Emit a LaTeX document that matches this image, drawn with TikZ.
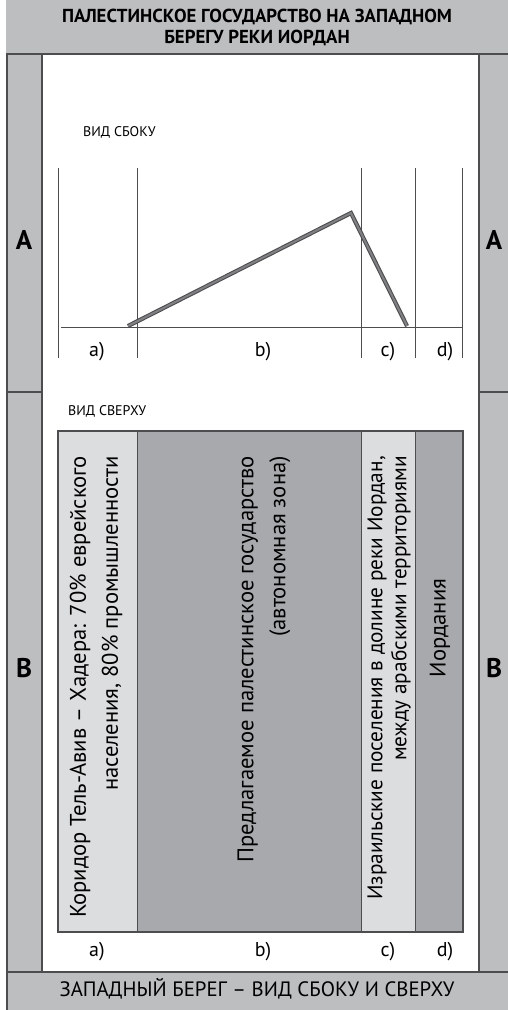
\documentclass[tikz,border=0pt]{standalone}
\usepackage{fontspec}
\setmainfont{PT Sans}
\definecolor{framegray}{HTML}{BCBEC0}
\definecolor{linegray}{HTML}{4D4D4F}
\definecolor{lightbox}{HTML}{DCDDDE}
\definecolor{darkbox}{HTML}{A7A9AC}
\definecolor{profilefill}{HTML}{808184}
\tikzset{
  frameline/.style={linegray, line width=1.6pt},
  thinline/.style={linegray, line width=0.8pt},
  bigletter/.style={font=\fontsize{27}{30}\selectfont\bfseries, inner sep=0pt},
  caption/.style={font=\fontsize{14}{16}\selectfont, anchor=west, inner sep=0pt},
  zonelabel/.style={font=\fontsize{20}{22}\selectfont, inner sep=0pt},
  boxtext/.style={font=\fontsize{22.6}{32}\selectfont, rotate=90, align=right, anchor=east, inner sep=0pt},
}
\begin{document}
\begin{tikzpicture}[x=1pt,y=-1pt]
\useasboundingbox (0,0) rectangle (508,1010);
% frame
\fill[framegray] (6,0) rectangle (508,1010);
\fill[white] (42,54) rectangle (479,972);
\draw[frameline] (7,54) -- (7,1010);
\draw[frameline] (6,54) -- (508,54);
\draw[frameline] (6,972) -- (508,972);
\draw[frameline] (42,54) -- (42,972);
\draw[frameline] (479,54) -- (479,972);
\draw[frameline] (7,392) -- (42,392);
\draw[frameline] (479,392) -- (508,392);
% title
\node[font=\fontsize{18.8}{21}\selectfont\bfseries, align=center, inner sep=0pt] (title) at (257,27) {ПАЛЕСТИНСКОЕ ГОСУДАРСТВО НА ЗАПАДНОМ\\БЕРЕГУ РЕКИ ИОРДАН};
\node[font=\fontsize{20.8}{22}\selectfont, inner sep=0pt] (footer) at (257,989) {ЗАПАДНЫЙ БЕРЕГ – ВИД СБОКУ И СВЕРХУ};
% side letters
\node[bigletter] (AL) at (24,240) {A};
\node[bigletter] (AR) at (494,240) {A};
\node[bigletter] (BL) at (24,668) {B};
\node[bigletter] (BR) at (494,668) {B};
% side view
\node[caption] (sidecap) at (83,132) {ВИД СБОКУ};
\foreach \x in {58,137,361,415,462} \draw[thinline] (\x,168) -- (\x,358);
\draw[thinline] (61,327) -- (462,327);
\coordinate (p1) at (128,326);
\coordinate (p2) at (351,213);
\coordinate (p3) at (407,326);
\draw[linegray, line width=4.2pt, line join=miter] (p1) -- (p2) -- (p3);
\draw[profilefill, line width=2pt, line join=miter] (p1) -- (p2) -- (p3);
\node[zonelabel] (sa) at (97,352) {a)};
\node[zonelabel] (sb) at (263,352) {b)};
\node[zonelabel] (sc) at (388,352) {c)};
\node[zonelabel] (sd) at (445,352) {d)};
% top view
\node[caption] (topcap) at (68,411) {ВИД СВЕРХУ};
\fill[lightbox] (58,431) rectangle (137,932);
\fill[darkbox] (137,431) rectangle (361,932);
\fill[lightbox] (361,431) rectangle (415,932);
\fill[darkbox] (415,431) rectangle (463,932);
\draw[thinline] (137,431) -- (137,932);
\draw[thinline] (361,431) -- (361,932);
\draw[thinline] (415,431) -- (415,932);
\draw[linegray, line width=1.2pt] (58,431) rectangle (463,932);
\node[boxtext] (ta) at (96,456) {Коридор Тель-Авив – Хадера: 70\% еврейского\\населения, 80\% промышленности};
\node[boxtext] (tb) at (264,456) {Предлагаемое палестинское государство\\(автономная зона)};
\node[boxtext, font=\fontsize{21.3}{24}\selectfont] (tc) at (389,456) {Израильские поселения в долине реки Иордан,\\между арабскими территориями};
\node[boxtext, anchor=center] (td) at (440,628) {Иордания};
\node[zonelabel] (ba) at (97,952) {a)};
\node[zonelabel] (bb) at (263,952) {b)};
\node[zonelabel] (bc) at (388,952) {c)};
\node[zonelabel] (bd) at (445,952) {d)};
\end{tikzpicture}
\end{document}
